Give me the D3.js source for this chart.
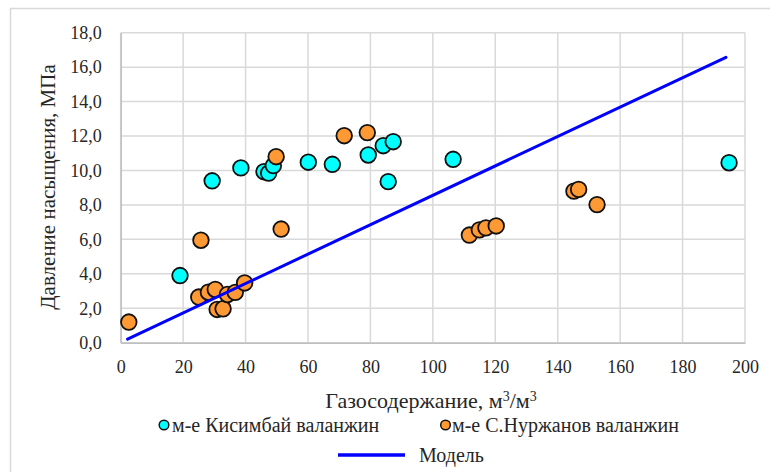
<!DOCTYPE html>
<html>
<head>
<meta charset="utf-8">
<script src="https://cdn.jsdelivr.net/npm/d3@7"></script>
<style>
  body { margin: 0; background: #fff; }
  svg, svg text { font-family: "Liberation Serif", "Times New Roman", Tinos, "DejaVu Serif", serif !important; }
</style>
</head>
<body>
<div class="chart"></div>
<script>
// м-е Кисимбай валанжин
const kisX = [19.0, 29.3, 38.5, 45.9, 47.4, 48.9, 60.1, 67.8, 79.3, 84.1, 87.3, 85.7, 106.5, 194.9];
const kisY = [3.9, 9.4, 10.15, 9.93, 9.85, 10.28, 10.48, 10.36, 10.9, 11.44, 11.67, 9.35, 10.65, 10.45];

// м-е С.Нуржанов валанжин
const nurX = [2.6, 25.0, 28.1, 30.3, 30.9, 32.8, 34.2, 36.7, 39.7, 25.7, 51.4, 49.8, 71.6, 79.0, 111.7, 114.9, 117.0, 120.3, 145.2, 146.7, 152.6];
const nurY = [1.2, 2.65, 2.93, 3.09, 1.93, 1.97, 2.8, 2.92, 3.47, 5.95, 6.6, 10.8, 12.02, 12.2, 6.25, 6.55, 6.67, 6.78, 8.8, 8.9, 8.02];

// Модель
const modelX = [2.2, 193.9];
const modelY = [0.21, 16.57];

const xTicks = d3.range(0, 201, 20);
const yTicks = d3.range(0, 18.1, 2);

const width = 770;
const height = 472;
const margin = { top: 32.7, right: 25, bottom: 129.3, left: 120.7 };
const innerW = width - margin.left - margin.right;
const innerH = height - margin.top - margin.bottom;

const gridColor = '#d9d9d9';
const cyan = '#00ffff';
const orange = '#ff9933';
const blue = '#0000ff';
const textColor = '#262626';

const svg = d3.select('.chart')
    .append('svg')
    .attr('width', width)
    .attr('height', height);

// chart frame
svg.append('rect')
    .attr('x', 10.5)
    .attr('y', 8.5)
    .attr('width', 800)
    .attr('height', 500)
    .attr('fill', 'none')
    .attr('stroke', gridColor)
    .attr('stroke-width', 1.5);

const x = d3.scaleLinear().domain([0, 200]).range([0, innerW]);
const y = d3.scaleLinear().domain([0, 18]).range([innerH, 0]);

const g = svg.append('g')
    .attr('transform', `translate(${margin.left},${margin.top})`);

// grid
g.append('g')
    .selectAll('line')
    .data(xTicks)
    .enter()
    .append('line')
    .attr('x1', d => x(d))
    .attr('x2', d => x(d))
    .attr('y1', 0)
    .attr('y2', innerH)
    .attr('stroke', gridColor)
    .attr('stroke-width', 1.5);

g.append('g')
    .selectAll('line')
    .data(yTicks)
    .enter()
    .append('line')
    .attr('x1', 0)
    .attr('x2', innerW)
    .attr('y1', d => y(d))
    .attr('y2', d => y(d))
    .attr('stroke', gridColor)
    .attr('stroke-width', 1.5);

// axes
const xAxis = g.append('g')
    .attr('transform', `translate(0,${innerH})`)
    .call(d3.axisBottom(x).tickValues(xTicks).tickSize(0).tickPadding(18));
xAxis.select('.domain').attr('stroke', '#bfbfbf').attr('stroke-width', 1.5);

const yAxis = g.append('g')
    .call(d3.axisLeft(y).tickValues(yTicks).tickSize(0).tickPadding(19)
        .tickFormat(d => d3.format('.1f')(d).replace('.', ',')));
yAxis.select('.domain').attr('stroke', '#bfbfbf').attr('stroke-width', 1.5);

g.selectAll('.tick text')
    .style('font-size', '18px')
    .attr('fill', textColor);

// series
const kis = kisX.map((v, i) => ({ x: v, y: kisY[i] }));
const nur = nurX.map((v, i) => ({ x: v, y: nurY[i] }));
const model = modelX.map((v, i) => ({ x: v, y: modelY[i] }));

g.append('g')
    .selectAll('circle')
    .data(kis)
    .enter()
    .append('circle')
    .attr('cx', d => x(d.x))
    .attr('cy', d => y(d.y))
    .attr('r', 7.8)
    .attr('fill', cyan)
    .attr('stroke', '#111')
    .attr('stroke-width', 1.8);

g.append('g')
    .selectAll('circle')
    .data(nur)
    .enter()
    .append('circle')
    .attr('cx', d => x(d.x))
    .attr('cy', d => y(d.y))
    .attr('r', 7.8)
    .attr('fill', orange)
    .attr('stroke', '#111')
    .attr('stroke-width', 1.8);

const line = d3.line()
    .x(d => x(d.x))
    .y(d => y(d.y));

g.append('path')
    .datum(model)
    .attr('d', line)
    .attr('fill', 'none')
    .attr('stroke', blue)
    .attr('stroke-width', 3)
    .attr('stroke-linecap', 'round');

// axis titles
const xTitle = svg.append('text')
    .attr('x', 431)
    .attr('y', 408)
    .attr('text-anchor', 'middle')
    .attr('fill', textColor)
    .style('font-size', '22px');
xTitle.append('tspan').text('Газосодержание, м');
xTitle.append('tspan').attr('dy', -7).style('font-size', '14px').text('3');
xTitle.append('tspan').attr('dy', 7).text('/м');
xTitle.append('tspan').attr('dy', -7).style('font-size', '14px').text('3');

svg.append('text')
    .attr('transform', 'translate(55,187) rotate(-90)')
    .attr('text-anchor', 'middle')
    .attr('fill', textColor)
    .style('font-size', '21px')
    .text('Давление насыщения, МПа');

// legend
const legend = svg.append('g');
const legendItems = [
    { label: 'м-е Кисимбай валанжин', color: cyan, cx: 164, tx: 172 },
    { label: 'м-е С.Нуржанов валанжин', color: orange, cx: 445.5, tx: 452 }
];

legendItems.forEach(item => {
    legend.append('circle')
        .attr('cx', item.cx)
        .attr('cy', 425)
        .attr('r', 4.8)
        .attr('fill', item.color)
        .attr('stroke', '#111')
        .attr('stroke-width', 1.5);
    legend.append('text')
        .attr('x', item.tx)
        .attr('y', 432)
        .attr('fill', textColor)
        .style('font-size', '20px')
        .text(item.label);
});

legend.append('line')
    .attr('x1', 338)
    .attr('x2', 405)
    .attr('y1', 455)
    .attr('y2', 455)
    .attr('stroke', blue)
    .attr('stroke-width', 3.5);

legend.append('text')
    .attr('x', 419)
    .attr('y', 462)
    .attr('fill', textColor)
    .style('font-size', '20px')
    .text('Модель');
</script>
</body>
</html>
